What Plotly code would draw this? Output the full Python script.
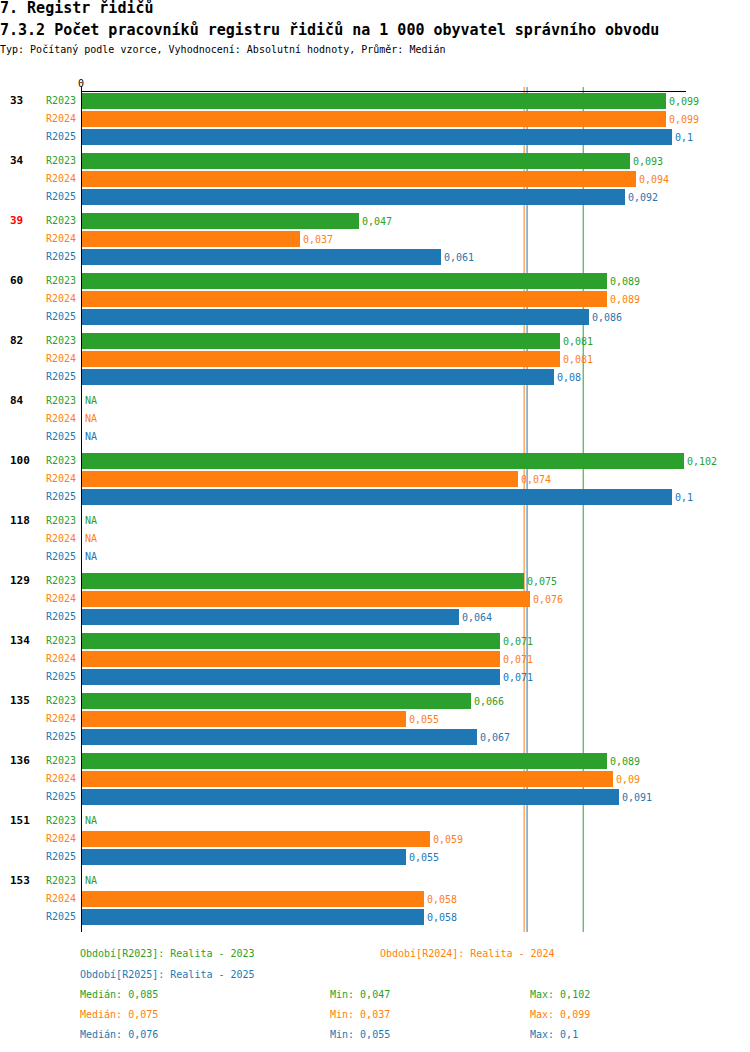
import plotly.graph_objects as go
import numpy as np
from decimal import Decimal, ROUND_HALF_UP

# ---- data ----
groups = ["33", "34", "39", "60", "82", "84", "100", "118", "129", "134", "135", "136", "151", "153"]
highlight = ["39"]
series_names = ["R2023", "R2024", "R2025"]
r2023 = [0.099, 0.093, 0.047, 0.089, 0.081, None, 0.102, None, 0.075, 0.071, 0.066, 0.089, None, None]
r2024 = [0.099, 0.094, 0.037, 0.089, 0.081, None, 0.074, None, 0.076, 0.071, 0.055, 0.09, 0.059, 0.058]
r2025 = [0.1, 0.092, 0.061, 0.086, 0.08, None, 0.1, None, 0.064, 0.071, 0.067, 0.091, 0.055, 0.058]
legend_labels = ["Období[R2023]: Realita - 2023", "Období[R2024]: Realita - 2024", "Období[R2025]: Realita - 2025"]

colors = ["#2ca02c", "#ff7f0e", "#1f77b4"]
FONT = "DejaVu Sans Mono"

# layout geometry (pixels)
W, H = 750, 1052
L, R, T, B = 81, 64, 92, 120
PW, PH = W - L - R, H - T - B
SLOT, GROUP, OFF = 18, 60, 8.5


def fmt(v):
    d = Decimal(repr(v)).quantize(Decimal("0.001"), rounding=ROUND_HALF_UP)
    s = format(d.normalize(), "f")
    return s.replace(".", ",")


def px(x):
    return (x - L) / PW


def py(y):
    return (T + PH - y) / PH


data = [r2023, r2024, r2025]
fig = go.Figure()
annotations = []

for si, (name, vals, col) in enumerate(zip(series_names, data, colors)):
    ys = [gi * GROUP + si * SLOT + OFF for gi in range(len(groups))]
    texts = [fmt(v) if v is not None else "" for v in vals]
    fig.add_trace(go.Bar(
        x=vals, y=ys, orientation="h", width=16,
        marker=dict(color=col, line=dict(width=0)),
        text=texts, textposition="outside", cliponaxis=False,
        textfont=dict(family=FONT, size=10, color=col),
        hoverinfo="skip", showlegend=False,
    ))
    for gi, (g, v) in enumerate(zip(groups, vals)):
        y = ys[gi]
        annotations.append(dict(x=0, y=y, xref="x", yref="y", text=name, showarrow=False,
                                xanchor="right", yanchor="middle", xshift=-3,
                                font=dict(family=FONT, size=10, color=col)))
        if v is None:
            annotations.append(dict(x=0, y=y, xref="x", yref="y", text="NA", showarrow=False,
                                    xanchor="left", yanchor="middle", xshift=2,
                                    font=dict(family=FONT, size=10, color=col)))

# group labels
for gi, g in enumerate(groups):
    annotations.append(dict(x=px(8), y=gi * GROUP + OFF, xref="paper", yref="y",
                            text="<b>%s</b>" % g, showarrow=False, xanchor="left", yanchor="middle",
                            font=dict(family=FONT, size=11, color="#ff0000" if g in highlight else "#000000")))

# titles
annotations.append(dict(x=px(-2), y=py(8), xref="paper", yref="paper", text="<b>7. Registr řidičů</b>",
                        showarrow=False, xanchor="left", yanchor="middle",
                        font=dict(family=FONT, size=15, color="#000")))
annotations.append(dict(x=px(-2), y=py(30), xref="paper", yref="paper",
                        text="<b>7.3.2 Počet pracovníků registru řidičů na 1 000 obyvatel správního obvodu</b>",
                        showarrow=False, xanchor="left", yanchor="middle",
                        font=dict(family=FONT, size=15, color="#000")))
annotations.append(dict(x=px(-2), y=py(50), xref="paper", yref="paper",
                        text="Typ: Počítaný podle vzorce, Vyhodnocení: Absolutní hodnoty, Průměr: Medián",
                        showarrow=False, xanchor="left", yanchor="middle",
                        font=dict(family=FONT, size=10, color="#000")))

# legend
leg_pos = [(78, 954), (378, 954), (78, 974)]
for (lx, ly), lab, col in zip(leg_pos, legend_labels, colors):
    annotations.append(dict(x=px(lx), y=py(ly), xref="paper", yref="paper", text=lab, showarrow=False,
                            xanchor="left", yanchor="middle", font=dict(family=FONT, size=10, color=col)))

shapes = []
for si, (vals, col) in enumerate(zip(data, colors)):
    arr = np.array([v for v in vals if v is not None])
    med, mn, mx = float(np.median(arr)), float(arr.min()), float(arr.max())
    ly = 994 + si * 20
    for lx, lab, v in [(78, "Medián", med), (328, "Min", mn), (528, "Max", mx)]:
        annotations.append(dict(x=px(lx), y=py(ly), xref="paper", yref="paper",
                                text="%s: %s" % (lab, fmt(round(v + 1e-12, 6))), showarrow=False,
                                xanchor="left", yanchor="middle",
                                font=dict(family=FONT, size=10, color=col)))
    shapes.append(dict(type="line", x0=med, x1=med, xref="x", y0=0, y1=1 + 5 / PH, yref="paper",
                       line=dict(color=col, width=1), layer="below"))

# left axis line
shapes.append(dict(type="line", x0=0, x1=0, xref="x", y0=0, y1=1 + 5 / PH, yref="paper",
                   line=dict(color="#000", width=2), layer="above"))

fig.update_layout(
    width=W, height=H, autosize=False,
    margin=dict(l=L, r=R, t=T, b=B, pad=0),
    paper_bgcolor="white", plot_bgcolor="white",
    barmode="overlay", bargap=0,
    annotations=annotations, shapes=shapes,
    xaxis=dict(side="top", range=[0, 0.1024], showgrid=False, zeroline=False,
               showline=True, linecolor="#000", linewidth=1, tickvals=[0], ticktext=["0"],
               ticks="", tickfont=dict(family=FONT, size=10, color="#000"), automargin=False,
               fixedrange=True),
    yaxis=dict(range=[PH, 0], showgrid=False, zeroline=False, showline=False,
               showticklabels=False, ticks="", automargin=False, fixedrange=True),
    font=dict(family=FONT),
)

fig.write_html("out.html", config={"displayModeBar": False},
               post_script="document.body.style.margin='0';document.body.style.padding='0';")
